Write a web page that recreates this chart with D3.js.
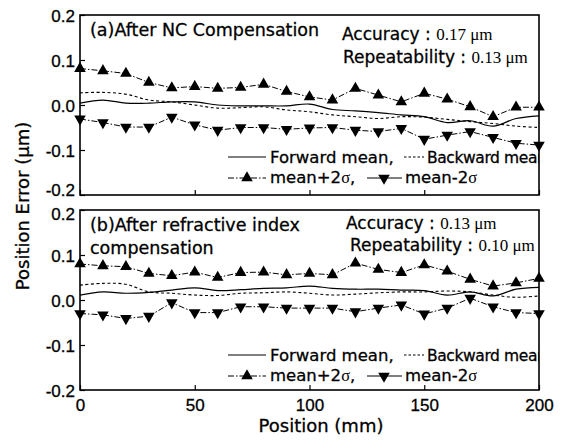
<!DOCTYPE html>
<html>
<head>
<meta charset="utf-8">
<script src="https://cdn.jsdelivr.net/npm/d3@7"></script>
<style>
  body { margin: 0; background: #fff; }
  text { font-family: "DejaVu Sans", sans-serif; fill: #000; stroke: #000; stroke-width: 0.3px; }
  .tick { font-family: "Liberation Sans", Arial, sans-serif; font-size: 17px; }
  .serif { font-family: "Liberation Serif", "Times New Roman", serif; stroke-width: 0; }
</style>
</head>
<body>
<svg id="chart" width="565" height="443"></svg>
<script>
// posiciones medidas (mm)
const positions = [0,10,20,30,40,50,60,70,80,90,100,110,120,130,140,150,160,170,180,190,200];

// (a) After NC Compensation
const aForward = [0.004,0.011,0.004,0.004,0.007,0.007,0.000,-0.002,-0.002,-0.002,0.002,-0.010,-0.013,-0.017,-0.022,-0.026,-0.039,-0.035,-0.047,-0.030,-0.024];
const aBackward = [0.027,0.028,0.024,0.011,0.007,0.000,-0.007,-0.006,-0.004,-0.011,-0.015,-0.022,-0.026,-0.030,-0.026,-0.027,-0.032,-0.037,-0.041,-0.047,-0.050];
const aPlus = [0.081,0.076,0.070,0.050,0.038,0.041,0.037,0.039,0.046,0.030,0.018,0.011,0.037,0.022,0.007,0.026,0.013,-0.004,-0.026,-0.005,-0.005];
const aMinus = [-0.031,-0.039,-0.049,-0.049,-0.027,-0.044,-0.056,-0.050,-0.050,-0.054,-0.051,-0.050,-0.056,-0.059,-0.052,-0.076,-0.067,-0.059,-0.072,-0.085,-0.089];

// (b) After refractive index compensation
const bForward = [0.011,0.018,0.015,0.017,0.022,0.027,0.021,0.023,0.026,0.027,0.031,0.026,0.024,0.024,0.022,0.021,0.011,0.018,0.009,0.024,0.028];
const bBackward = [0.033,0.037,0.035,0.018,0.015,0.011,0.010,0.015,0.016,0.018,0.015,0.011,0.013,0.016,0.018,0.018,0.020,0.018,0.011,0.006,0.009];
const bPlus = [0.080,0.076,0.074,0.059,0.054,0.062,0.050,0.061,0.062,0.056,0.059,0.056,0.082,0.068,0.061,0.078,0.064,0.046,0.031,0.038,0.048];
const bMinus = [-0.030,-0.033,-0.041,-0.036,-0.006,-0.028,-0.028,-0.015,-0.015,-0.018,-0.018,-0.018,-0.026,-0.018,-0.011,-0.031,-0.018,0.004,-0.015,-0.028,-0.030];

const xTicks = [0,50,100,150,200];
const yTicks = [-0.2,-0.1,0.0,0.1,0.2];

const svg = d3.select('#chart');
const left = 80, right = 539;

const x = d3.scaleLinear().domain([0,200]).range([left, right]);

const panels = [
  { top: 15, bottom: 195, fwd: aForward, bwd: aBackward, plus: aPlus, minus: aMinus,
    title: ['(a)After NC Compensation'], acc: '0.17', rep: '0.13',
    accX: 342, accY: 40, repX: 343, repY: 63, legY: 157 },
  { top: 210, bottom: 390, fwd: bForward, bwd: bBackward, plus: bPlus, minus: bMinus,
    title: ['(b)After refractive index', 'compensation'], acc: '0.13', rep: '0.10',
    accX: 346, accY: 229, repX: 350, repY: 251, legY: 355 }
];

const fmt = v => d3.format('.1f')(v).replace('\u2212', '-');
const triUp = d3.symbol(d3.symbolTriangle, 58);

panels.forEach((p, i) => {
  const y = d3.scaleLinear().domain([-0.2, 0.2]).range([p.bottom, p.top]);
  const g = svg.append('g');
  const clipId = 'clip' + i;
  svg.append('clipPath').attr('id', clipId)
    .append('rect').attr('x', left).attr('y', p.top).attr('width', right - left).attr('height', p.bottom - p.top);

  // lineas de media (suavizadas)
  const smooth = d3.line().x((d, k) => x(positions[k])).y(d => y(d)).curve(d3.curveCatmullRom);
  const straight = d3.line().x((d, k) => x(positions[k])).y(d => y(d));

  g.append('path').attr('d', smooth(p.fwd)).attr('fill', 'none').attr('stroke', '#000').attr('stroke-width', 1.2);
  g.append('path').attr('d', smooth(p.bwd)).attr('fill', 'none').attr('stroke', '#000').attr('stroke-width', 1.1)
    .attr('stroke-dasharray', '3,2.5');

  [[p.plus, 0], [p.minus, 180]].forEach(([vals, rot]) => {
    g.append('path').attr('d', straight(vals)).attr('fill', 'none').attr('stroke', '#000')
      .attr('stroke-width', 1).attr('stroke-dasharray', '6,2,1.5,2');
    g.selectAll(null).data(vals).enter().append('path')
      .attr('d', triUp)
      .attr('transform', (d, k) => `translate(${x(positions[k])},${y(d)}) rotate(${rot})`)
      .attr('fill', '#000');
  });

  // ejes: ticks hacia dentro
  const yAxis = d3.axisLeft(y).tickValues(yTicks).tickSize(-5).tickPadding(5).tickFormat(fmt);
  const ya = svg.append('g').attr('transform', `translate(${left},0)`).call(yAxis);
  ya.select('.domain').remove();
  ya.selectAll('text').attr('class', 'tick')
    .attr('dy', d => (i === 0 && d === -0.2) ? '0.05em' : (i === 1 && d === 0.2) ? '0.55em' : '0.36em');
  ya.selectAll('.tick line').attr('stroke-width', 1.2);

  const xAxis = d3.axisBottom(x).tickValues(xTicks).tickSize(-5).tickPadding(6)
    .tickFormat(i === 1 ? d3.format('d') : () => '');
  const xa = svg.append('g').attr('transform', `translate(0,${p.bottom})`).call(xAxis);
  xa.select('.domain').remove();
  xa.selectAll('text').attr('class', 'tick').attr('dy', '0.9em');
  xa.selectAll('.tick line').attr('stroke-width', 1.2);

  svg.append('rect').attr('x', left).attr('y', p.top).attr('width', right - left).attr('height', p.bottom - p.top)
    .attr('fill', 'none').attr('stroke', '#000').attr('stroke-width', 1.6);

  // titulo
  p.title.forEach((t, k) => {
    svg.append('text').attr('x', 90).attr('y', p.top + 21 + k * 23).style('font-size', '17.5px').text(t);
  });

  const acc = svg.append('text').attr('x', p.accX).attr('y', p.accY).style('font-size', '17px');
  acc.append('tspan').text('Accuracy : ');
  acc.append('tspan').attr('class', 'serif').text(p.acc + ' \u03bcm');
  const rep = svg.append('text').attr('x', p.repX).attr('y', p.repY).style('font-size', '17px');
  rep.append('tspan').text('Repeatability : ');
  rep.append('tspan').attr('class', 'serif').text(p.rep + ' \u03bcm');

  // leyenda
  const lg = svg.append('g').attr('clip-path', `url(#${clipId})`);
  const r1 = p.legY, r2 = p.legY + 21;
  lg.append('line').attr('x1', 228).attr('x2', 266).attr('y1', r1).attr('y2', r1).attr('stroke', '#000').attr('stroke-width', 1.2);
  lg.append('text').attr('x', 270).attr('y', r1 + 6).style('font-size', '16.5px').text('Forward mean,');
  lg.append('line').attr('x1', 404).attr('x2', 424).attr('y1', r1).attr('y2', r1).attr('stroke', '#000').attr('stroke-width', 1.1).attr('stroke-dasharray', '2.5,2');
  lg.append('text').attr('x', 427).attr('y', r1 + 6).style('font-size', '15.5px').style('letter-spacing', '-0.4px').text('Backward mean');

  lg.append('line').attr('x1', 228).attr('x2', 266).attr('y1', r2).attr('y2', r2).attr('stroke', '#000').attr('stroke-width', 1).attr('stroke-dasharray', '6,2,1.5,2');
  lg.append('path').attr('d', triUp).attr('transform', `translate(247,${r2})`).attr('fill', '#000');
  const t1 = lg.append('text').attr('x', 270).attr('y', r2 + 5).style('font-size', '16.5px');
  t1.append('tspan').text('mean+2');
  t1.append('tspan').attr('class', 'serif').text('\u03c3');
  t1.append('tspan').text(',');
  lg.append('line').attr('x1', 367).attr('x2', 402).attr('y1', r2).attr('y2', r2).attr('stroke', '#000').attr('stroke-width', 1);
  lg.append('path').attr('d', triUp).attr('transform', `translate(384,${r2}) rotate(180)`).attr('fill', '#000');
  const t2 = lg.append('text').attr('x', 405).attr('y', r2 + 5).style('font-size', '16.5px');
  t2.append('tspan').text('mean-2');
  t2.append('tspan').attr('class', 'serif').text('\u03c3');
});

// titulos de ejes
svg.append('text').attr('x', 321).attr('y', 432).attr('text-anchor', 'middle').style('font-size', '18px').text('Position (mm)');
svg.append('text').attr('transform', 'translate(29,206) rotate(-90)').attr('text-anchor', 'middle')
  .style('font-size', '18px').text('Position Error (\u03bcm)');
</script>
</body>
</html>
